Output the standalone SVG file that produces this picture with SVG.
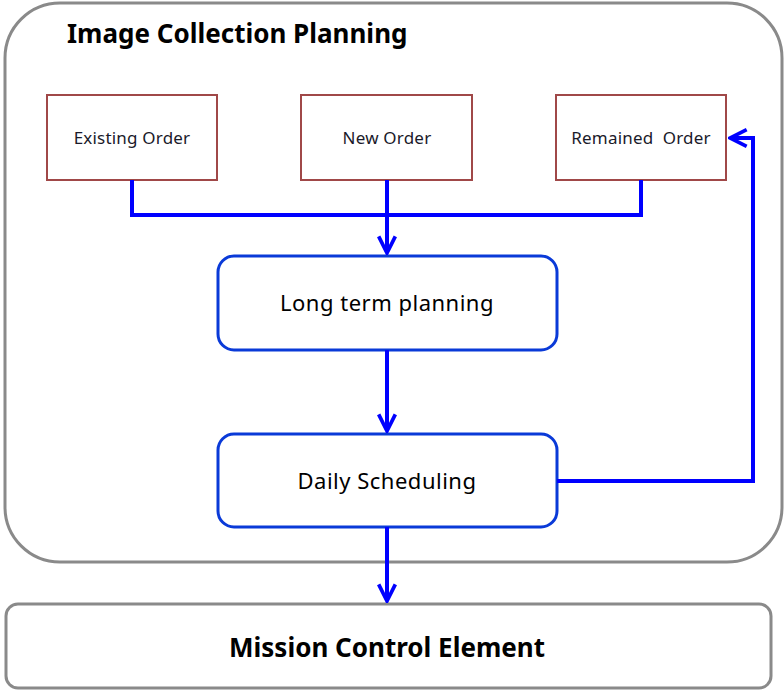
<svg xmlns="http://www.w3.org/2000/svg" width="784" height="690" viewBox="0 0 784 690">
  <style>
    .container { fill: #ffffff; stroke: #8a8a8a; stroke-width: 3; }
    .order { fill: #ffffff; stroke: #a04848; stroke-width: 2; }
    .process { fill: #ffffff; stroke: #0a3ad8; stroke-width: 3; }
    .title { font-family: "Noto Sans", "Liberation Sans", sans-serif; font-weight: bold; font-size: 26px; fill: #000000; }
    .label-sm { font-family: "Noto Sans", "Liberation Sans", sans-serif; font-size: 17px; letter-spacing: 0.2px; fill: #1a1a2a; text-anchor: middle; }
    .label-md { font-family: "Noto Sans", "Liberation Sans", sans-serif; font-size: 22px; letter-spacing: 0.5px; fill: #000000; text-anchor: middle; }
    .link { fill: none; stroke: #0000ff; stroke-width: 4; stroke-linejoin: miter; }
  </style>
  <defs>
    <marker id="chevron" viewBox="0 0 12 12" refX="11" refY="6" markerWidth="5" markerHeight="5" markerUnits="strokeWidth" orient="auto">
      <path d="M1,1 L11,6 L1,11" fill="none" stroke="#0000ff" stroke-width="2.2"/>
    </marker>
  </defs>

  <rect width="784" height="690" fill="#ffffff"/>

  <g id="image-collection-planning">
    <rect class="container" x="5" y="3" width="777" height="559" rx="55" ry="55"/>
    <text class="title" x="67" y="43">Image Collection Planning</text>
  </g>

  <g id="existing-order">
    <rect class="order" x="47" y="95" width="170" height="85"/>
    <text class="label-sm" x="132" y="144">Existing Order</text>
  </g>

  <g id="new-order">
    <rect class="order" x="301" y="95" width="171" height="85"/>
    <text class="label-sm" x="387" y="144">New Order</text>
  </g>

  <g id="remained-order">
    <rect class="order" x="556" y="95" width="170" height="85"/>
    <text class="label-sm" x="641" y="144" xml:space="preserve">Remained  Order</text>
  </g>

  <g id="long-term-planning">
    <rect class="process" x="218" y="256" width="339" height="94" rx="16" ry="16"/>
    <text class="label-md" x="387" y="311">Long term planning</text>
  </g>

  <g id="daily-scheduling">
    <rect class="process" x="218" y="434" width="339" height="93" rx="16" ry="16"/>
    <text class="label-md" x="387" y="489">Daily Scheduling</text>
  </g>

  <g id="mission-control-element">
    <rect class="container" x="6" y="604" width="765" height="84" rx="12" ry="12"/>
    <text class="title" x="387" y="657" text-anchor="middle">Mission Control Element</text>
  </g>

  <g id="connectors">
    <path class="link" d="M132,180 V215 H641 V180"/>
    <path class="link" d="M387,180 V253" marker-end="url(#chevron)"/>
    <path class="link" d="M387,350 V431" marker-end="url(#chevron)"/>
    <path class="link" d="M557,481 H753 V138 H730" marker-end="url(#chevron)"/>
    <path class="link" d="M387,527 V601" marker-end="url(#chevron)"/>
  </g>
</svg>
